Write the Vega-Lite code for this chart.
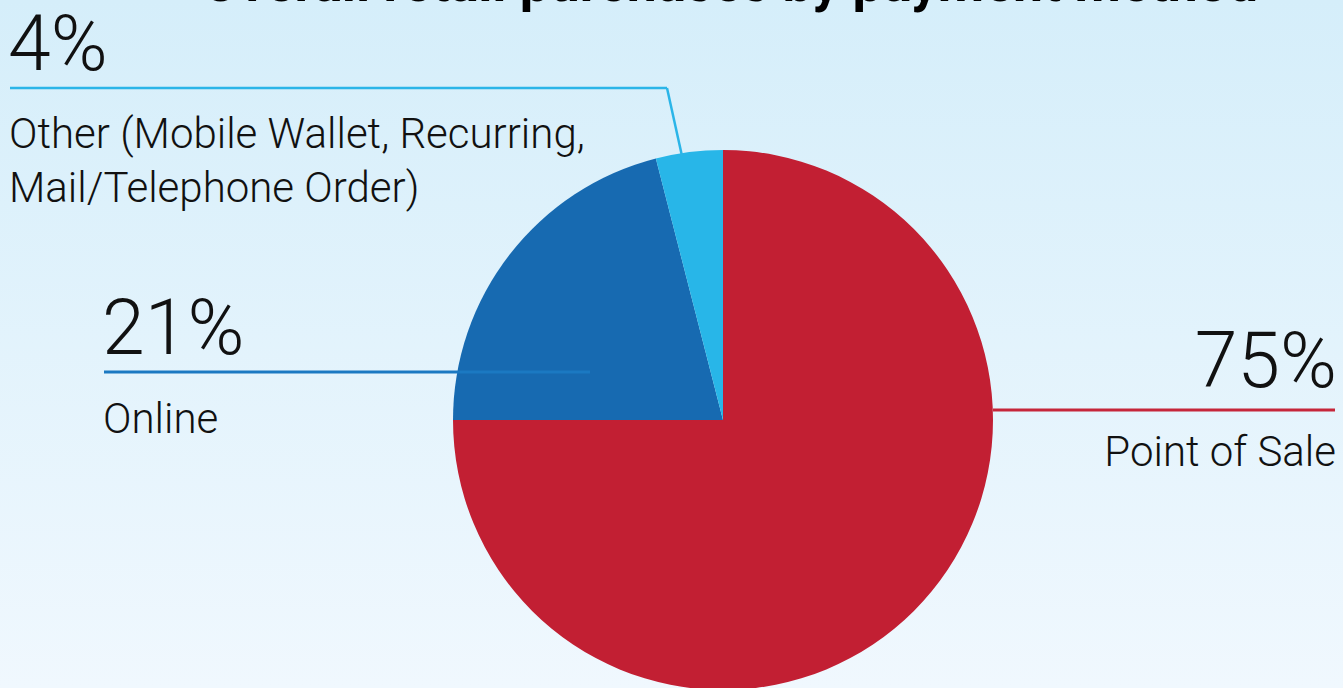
{
  "$schema": "https://vega.github.io/schema/vega-lite/v6.json",
  "width": 1343,
  "height": 688,
  "padding": 0,
  "autosize": {"type": "none"},
  "background": "#E6F4FC",
  "config": {"view": {"stroke": null}, "font": "Roboto"},
  "data": {
    "values": [
      {"method": "Point of Sale", "share": 0.75, "label": "Point of Sale"},
      {"method": "Online", "share": 0.21, "label": "Online"},
      {"method": "Other", "share": 0.04, "label": "Other (Mobile Wallet, Recurring,\nMail/Telephone Order)"}
    ]
  },
  "layer": [
    {
      "data": {"values": [{}]},
      "mark": {
        "type": "rect",
        "fill": {
          "gradient": "linear",
          "x1": 0, "y1": 0, "x2": 0, "y2": 1,
          "stops": [
            {"offset": 0, "color": "#D5EEFA"},
            {"offset": 1, "color": "#F0F8FE"}
          ]
        }
      },
      "encoding": {}
    },
    {
      "mark": {"type": "arc", "outerRadius": 270, "x": 723, "y": 420, "stroke": null},
      "encoding": {
        "theta": {"field": "share", "type": "quantitative", "stack": true},
        "color": {
          "field": "method",
          "type": "nominal",
          "scale": {"domain": ["Point of Sale", "Online", "Other"], "range": ["#C21F33", "#176AB1", "#28B6E8"]},
          "legend": null
        },
        "order": {"field": "share", "sort": "descending"}
      }
    },
    {
      "transform": [{"filter": "datum.method === 'Other'"}],
      "mark": {"type": "rule", "color": "#2BB5E8", "strokeWidth": 2.5},
      "encoding": {"x": {"value": 10}, "x2": {"value": 667}, "y": {"value": 88}, "y2": {"value": 88}}
    },
    {
      "transform": [{"filter": "datum.method === 'Other'"}],
      "mark": {"type": "rule", "color": "#2BB5E8", "strokeWidth": 2.5},
      "encoding": {"x": {"value": 667}, "x2": {"value": 682}, "y": {"value": 88}, "y2": {"value": 156}}
    },
    {
      "transform": [{"filter": "datum.method === 'Online'"}],
      "mark": {"type": "rule", "color": "#1B79C2", "strokeWidth": 3},
      "encoding": {"x": {"value": 104}, "x2": {"value": 590}, "y": {"value": 372}, "y2": {"value": 372}}
    },
    {
      "transform": [{"filter": "datum.method === 'Point of Sale'"}],
      "mark": {"type": "rule", "color": "#C6263A", "strokeWidth": 3},
      "encoding": {"x": {"value": 993}, "x2": {"value": 1335}, "y": {"value": 410}, "y2": {"value": 410}}
    },
    {
      "transform": [{"filter": "datum.method === 'Other'"}],
      "mark": {"type": "text", "x": 8, "y": 70, "align": "left", "baseline": "alphabetic", "fontSize": 77, "fontWeight": 300, "color": "#111111"},
      "encoding": {"text": {"field": "share", "type": "quantitative", "format": ".0%"}}
    },
    {
      "transform": [{"filter": "datum.method === 'Online'"}],
      "mark": {"type": "text", "x": 102, "y": 354, "align": "left", "baseline": "alphabetic", "fontSize": 77, "fontWeight": 300, "color": "#111111"},
      "encoding": {"text": {"field": "share", "type": "quantitative", "format": ".0%"}}
    },
    {
      "transform": [{"filter": "datum.method === 'Point of Sale'"}],
      "mark": {"type": "text", "x": 1337, "y": 387, "align": "right", "baseline": "alphabetic", "fontSize": 77, "fontWeight": 300, "color": "#111111"},
      "encoding": {"text": {"field": "share", "type": "quantitative", "format": ".0%"}}
    },
    {
      "transform": [{"filter": "datum.method === 'Other'"}],
      "mark": {"type": "text", "x": 9, "y": 148, "align": "left", "baseline": "alphabetic", "fontSize": 42, "fontWeight": 300, "lineHeight": 54, "lineBreak": "\n", "color": "#111111"},
      "encoding": {"text": {"field": "label", "type": "nominal"}}
    },
    {
      "transform": [{"filter": "datum.method === 'Online'"}],
      "mark": {"type": "text", "x": 103, "y": 433, "align": "left", "baseline": "alphabetic", "fontSize": 42, "fontWeight": 300, "color": "#111111"},
      "encoding": {"text": {"field": "label", "type": "nominal"}}
    },
    {
      "transform": [{"filter": "datum.method === 'Point of Sale'"}],
      "mark": {"type": "text", "x": 1336, "y": 466, "align": "right", "baseline": "alphabetic", "fontSize": 42, "fontWeight": 300, "color": "#111111"},
      "encoding": {"text": {"field": "label", "type": "nominal"}}
    },
    {
      "data": {"values": [{"title": "Overall retail purchases by payment method"}]},
      "mark": {"type": "text", "x": 730, "y": 1, "align": "center", "baseline": "alphabetic", "fontSize": 53.5, "fontWeight": "bold", "color": "#000000"},
      "encoding": {"text": {"field": "title", "type": "nominal"}}
    }
  ]
}
